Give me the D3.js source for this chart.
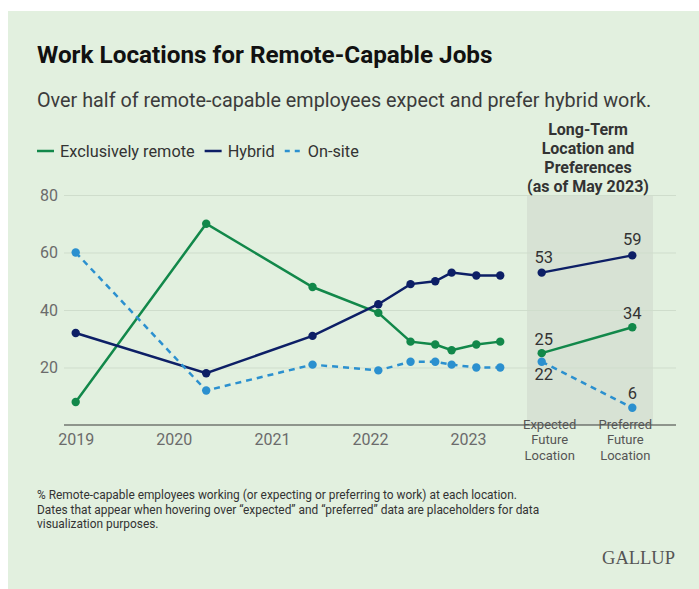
<!DOCTYPE html>
<html>
<head>
<meta charset="utf-8">
<script src="https://cdn.jsdelivr.net/npm/d3@7"></script>
<style>
  html, body { margin: 0; padding: 0; background: #fff; }
  svg { display: block; font-family: Roboto, "Noto Sans", sans-serif; }
</style>
</head>
<body>
<svg id="chart" width="699" height="589"></svg>
<script>
// time series (survey waves)
const dates = ['2019-01-01', '2020-05-01', '2021-06-01', '2022-02-01', '2022-06-01',
  '2022-09-01', '2022-11-01', '2023-02-01', '2023-05-01'].map(d => new Date(d));
const remote = [8, 70, 48, 39, 29, 28, 26, 28, 29];
const hybrid = [32, 18, 31, 42, 49, 50, 53, 52, 52];
const onsite = [60, 12, 21, 19, 22, 22, 21, 20, 20];

// long-term expectations / preferences
const futureCats = ['Expected', 'Preferred'];
const futureRemote = [25, 34];
const futureHybrid = [53, 59];
const futureOnsite = [22, 6];

const yTicks = [20, 40, 60, 80];
const xTickYears = [2019, 2020, 2021, 2022, 2023];

const series = [
  { name: 'Exclusively remote', values: remote, future: futureRemote, color: '#12884a', dash: null },
  { name: 'Hybrid', values: hybrid, future: futureHybrid, color: '#0d1f66', dash: null },
  { name: 'On-site', values: onsite, future: futureOnsite, color: '#2b90cf', dash: '6,5' }
];

const svg = d3.select('#chart');

svg.append('rect')
  .attr('x', 8).attr('y', 11)
  .attr('width', 691).attr('height', 578)
  .attr('fill', '#e2f0df');

const x = d3.scaleTime()
  .domain([new Date('2019-01-01'), new Date('2023-01-01')])
  .range([75.7, 468]);
const xf = d3.scalePoint().domain(futureCats).range([541.7, 632.3]);
const y = d3.scaleLinear().domain([0, 80]).range([425, 195]);

// shaded band for long-term panel
svg.append('rect')
  .attr('x', 527).attr('y', y(80))
  .attr('width', 126).attr('height', y(0) - y(80))
  .attr('fill', '#d7e2d4');

// gridlines + y labels
const yAxis = svg.append('g').attr('transform', 'translate(64,0)')
  .call(d3.axisLeft(y).tickValues(yTicks).tickSize(-612).tickPadding(6));
yAxis.select('.domain').remove();
yAxis.selectAll('.tick line').attr('stroke', '#cfddcc').attr('stroke-width', 1);
yAxis.selectAll('.tick text')
  .attr('font-family', 'Roboto').attr('font-size', 16).attr('fill', '#6b6b6b');

// baseline + x labels
const xAxis = svg.append('g').attr('transform', `translate(0,${y(0)})`)
  .call(d3.axisBottom(x)
    .tickValues(xTickYears.map(yr => new Date(`${yr}-01-01`)))
    .tickFormat(d3.timeFormat('%Y')).tickSize(0).tickPadding(9));
xAxis.select('.domain').remove();
xAxis.selectAll('.tick text')
  .attr('dy', '0.71em')
  .attr('font-family', 'Roboto').attr('font-size', 16).attr('fill', '#6b6b6b');

svg.append('line')
  .attr('x1', 64).attr('x2', 676)
  .attr('y1', y(0)).attr('y2', y(0))
  .attr('stroke', '#3a3a3a').attr('stroke-width', 1.2);

// lines
const line = d3.line().x(d => x(d.date)).y(d => y(d.v));
const fline = d3.line().x(d => xf(d.cat)).y(d => y(d.v));

series.forEach(s => {
  const pts = s.values.map((v, i) => ({ date: dates[i], v }));
  const fpts = s.future.map((v, i) => ({ cat: futureCats[i], v }));
  const g = svg.append('g');
  g.append('path').datum(pts)
    .attr('d', line).attr('fill', 'none')
    .attr('stroke', s.color).attr('stroke-width', 2.5)
    .attr('stroke-dasharray', s.dash);
  g.append('path').datum(fpts)
    .attr('d', fline).attr('fill', 'none')
    .attr('stroke', s.color).attr('stroke-width', 2.5)
    .attr('stroke-dasharray', s.dash);
  g.selectAll('circle.p').data(pts).join('circle')
    .attr('cx', d => x(d.date)).attr('cy', d => y(d.v)).attr('r', 4.2)
    .attr('fill', s.color);
  g.selectAll('circle.f').data(fpts).join('circle')
    .attr('cx', d => xf(d.cat)).attr('cy', d => y(d.v)).attr('r', 4.2)
    .attr('fill', s.color);
});

// value labels in the long-term panel
const labelOffsets = {
  'Exclusively remote': [-8, -8],
  'Hybrid': [-10, -10],
  'On-site': [18, -9]
};
series.forEach(s => {
  svg.selectAll(null).data(s.future).join('text')
    .attr('x', (d, i) => xf(futureCats[i]) + (i === 0 ? 2 : 0))
    .attr('y', (d, i) => y(d) + labelOffsets[s.name][i])
    .attr('text-anchor', 'middle')
    .attr('font-size', 16.5).attr('fill', '#333')
    .text(d => d);
});

// panel heading
const heading = ['Long-Term', 'Location and', 'Preferences', '(as of May 2023)'];
svg.append('text')
  .attr('x', 588).attr('y', 135)
  .attr('text-anchor', 'middle')
  .attr('font-size', 16).attr('font-weight', 700).attr('fill', '#333')
  .selectAll('tspan').data(heading).join('tspan')
  .attr('x', 588).attr('dy', (d, i) => i ? 19 : 0)
  .text(d => d);

// category labels
const catLines = [['Expected', 'Future', 'Location'], ['Preferred', 'Future', 'Location']];
catLines.forEach((ls, i) => {
  const cx = xf(futureCats[i]) + (i === 0 ? 8 : -7);
  svg.append('text')
    .attr('x', cx).attr('y', 428.5)
    .attr('text-anchor', 'middle')
    .attr('font-size', 13).attr('fill', '#555')
    .selectAll('tspan').data(ls).join('tspan')
    .attr('x', cx).attr('dy', (d, j) => j ? 15.5 : 0)
    .text(d => d);
});

// title + subtitle
svg.append('text')
  .attr('x', 37).attr('y', 63)
  .attr('font-size', 24.3).attr('font-weight', 700).attr('fill', '#111')
  .text('Work Locations for Remote-Capable Jobs');
svg.append('text')
  .attr('x', 37).attr('y', 107)
  .attr('font-size', 19.8).attr('fill', '#3b3b3b')
  .text('Over half of remote-capable employees expect and prefer hybrid work.');

// legend
const legend = svg.append('g').attr('transform', 'translate(37,151)');
let lx = 0;
series.forEach(s => {
  legend.append('line')
    .attr('x1', lx).attr('x2', lx + 17)
    .attr('stroke', s.color).attr('stroke-width', 2.5)
    .attr('stroke-dasharray', s.dash ? '5,5' : null);
  const t = legend.append('text')
    .attr('x', lx + 23).attr('y', 5.8)
    .attr('font-size', 16.3).attr('fill', '#333')
    .text(s.name);
  lx += 23 + t.node().getComputedTextLength() + 10;
});

// footnote
const notes = [
  '% Remote-capable employees working (or expecting or preferring to work) at each location.',
  'Dates that appear when hovering over \u201cexpected\u201d and \u201cpreferred\u201d data are placeholders for data',
  'visualization purposes.'
];
svg.append('text')
  .attr('x', 37).attr('y', 499)
  .attr('font-size', 11.9).attr('fill', '#333')
  .selectAll('tspan').data(notes).join('tspan')
  .attr('x', 37).attr('dy', (d, i) => i ? 14.5 : 0)
  .text(d => d);

// logo
svg.append('text')
  .attr('x', 675).attr('y', 564)
  .attr('text-anchor', 'end')
  .attr('font-family', '"Liberation Serif", serif')
  .attr('font-size', 18.5).attr('fill', '#555')
  .text('GALLUP');
</script>
</body>
</html>
